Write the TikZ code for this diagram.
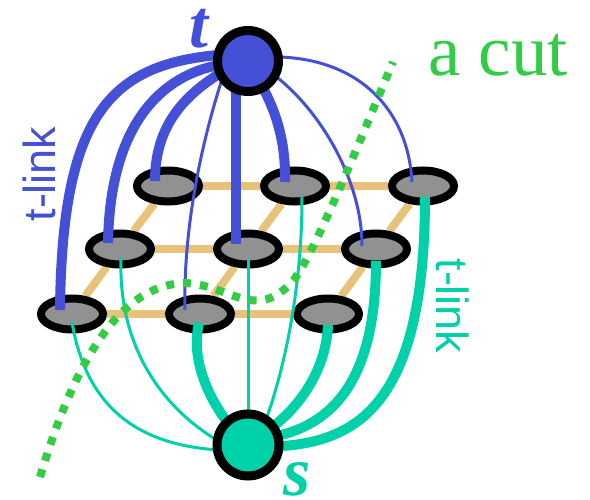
\documentclass[tikz,border=0pt]{standalone}
\usepackage{fontspec}
\setmainfont{Liberation Serif}
\newfontfamily\linkfont{Liberation Sans}
\usetikzlibrary{shapes.geometric,calc}
\definecolor{tblue}{HTML}{4450D6}
\definecolor{steal}{HTML}{00D1A8}
\definecolor{cutgreen}{HTML}{33CC44}
\definecolor{gridor}{HTML}{E8C27A}
\definecolor{cellgray}{HTML}{919191}
\pgfdeclarelayer{bg}\pgfdeclarelayer{fg}\pgfdeclarelayer{top}
\pgfsetlayers{bg,main,fg,top}
\tikzset{
  cell/.style={ellipse,draw=black,fill=cellgray,line width=8pt,minimum width=62pt,minimum height=31pt,inner sep=0pt},
  term/.style={circle,draw=black,line width=9pt,minimum size=61pt,inner sep=0pt},
  gridline/.style={draw=gridor,line width=8pt},
  bthick/.style={draw=tblue,line width=10pt},
  bthin/.style={draw=tblue,line width=3pt},
  gthick/.style={draw=steal,line width=10pt},
  gthin/.style={draw=steal,line width=3pt},
  cutline/.style={draw=cutgreen,line width=8pt,dash pattern=on 8pt off 9pt},
}
\begin{document}
\begin{tikzpicture}[x=1pt,y=-1pt]
\useasboundingbox (0,0) rectangle (590,500);
% grid cells
\node[cell] (n11) at (168,186) {};
\node[cell] (n12) at (295,186) {};
\node[cell] (n13) at (423,186) {};
\node[cell] (n21) at (120,249) {};
\node[cell] (n22) at (248,249) {};
\node[cell] (n23) at (376,249) {};
\node[cell] (n31) at (72,314) {};
\node[cell] (n32) at (200,314) {};
\node[cell] (n33) at (328,314) {};
% terminals
\begin{pgfonlayer}{top}
\node[term,fill=tblue] (t) at (248,61) {};
\node[term,fill=steal,minimum size=62pt] (s) at (248,445) {};
\end{pgfonlayer}
% grid edges
\begin{pgfonlayer}{bg}
\draw[gridline] (n11) -- (n12) -- (n13);
\draw[gridline] (n21) -- (n22) -- (n23);
\draw[gridline] (n31) -- (n32) -- (n33);
\draw[gridline] (n11) -- (n21) -- (n31);
\draw[gridline] (n12) -- (n22) -- (n32);
\draw[gridline] (n13) -- (n23) -- (n33);
\end{pgfonlayer}
\begin{pgfonlayer}{fg}
% t-links
\draw[bthick] ($(t)+(-30,-6)$) .. controls (110,65) and (62,115) .. ($(n31)+(-12,-4)$);
\draw[bthick] ($(t)+(-29,4)$) .. controls (165,75) and (110,120) .. ($(n21)+(-12,-6)$);
\draw[bthick] ($(t)+(-26,11)$) .. controls (185,95) and (155,125) .. ($(n11)+(-13,-5)$);
\draw[bthin] ($(t)+(-23,9)$) .. controls (205,130) and (183,220) .. ($(n32)+(-15,-4)$);
\draw[bthick] ($(t)+(-12,29)$) -- ($(n22)+(-12,-5)$);
\draw[bthick] ($(t)+(14,25)$) .. controls (275,110) and (286,140) .. ($(n12)+(-10,-4)$);
\draw[bthin] ($(t)+(26,14)$) .. controls (320,110) and (362,180) .. ($(n23)+(-14,-3)$);
\draw[bthin] ($(t)+(32,-4)$) .. controls (360,60) and (408,110) .. ($(n13)+(-11,-4)$);
% s-links
\draw[gthin] ($(n31)+(0,8)$) .. controls (85,400) and (130,445) .. ($(s)+(-28,5)$);
\draw[gthin] ($(n21)+(1,9)$) .. controls (118,350) and (165,410) .. ($(s)+(-28,-3)$);
\draw[gthick] ($(n32)+(-1,9)$) .. controls (190,360) and (210,400) .. ($(s)+(-20,-22)$);
\draw[gthin] ($(n22)+(0,10)$) -- ($(s)+(0,-33)$);
\draw[gthin] ($(n12)+(7,11)$) .. controls (302,300) and (280,380) .. ($(s)+(19,-28)$);
\draw[gthick] ($(n33)+(0,11)$) .. controls (326,370) and (300,405) .. ($(s)+(27,-20)$);
\draw[gthick] ($(n23)+(0,12)$) .. controls (376,370) and (340,420) .. ($(s)+(33,-10)$);
\draw[gthick] ($(n13)+(2,11)$) .. controls (425,400) and (360,440) .. ($(s)+(35,1)$);
% the cut
\draw[cutline] (40,477) .. controls (75,360) and (120,285) .. (185,283)
   .. controls (230,285) and (255,322) .. (292,282)
   .. controls (312,260) and (360,140) .. (393,62);
\end{pgfonlayer}
% labels
\node[anchor=base,text=tblue,font=\fontsize{68}{68}\selectfont\bfseries\itshape,inner sep=0pt] (tl) at (199,48) {t};
\node[anchor=base,text=steal,font=\fontsize{70}{70}\selectfont\bfseries\itshape,inner sep=0pt] (sl) at (297,495) {s};
\node[anchor=base west,text=cutgreen,font=\fontsize{73}{73}\selectfont,inner sep=0pt] (cut) at (428,76) {a cut};
\node[rotate=90,text=tblue,font=\linkfont\fontsize{45}{45}\selectfont,inner sep=0pt] (tlink1) at (39,174) {t-link};
\node[rotate=-90,text=steal,font=\linkfont\fontsize{45}{45}\selectfont,inner sep=0pt] (tlink2) at (453,306) {t-link};
\end{tikzpicture}
\end{document}
